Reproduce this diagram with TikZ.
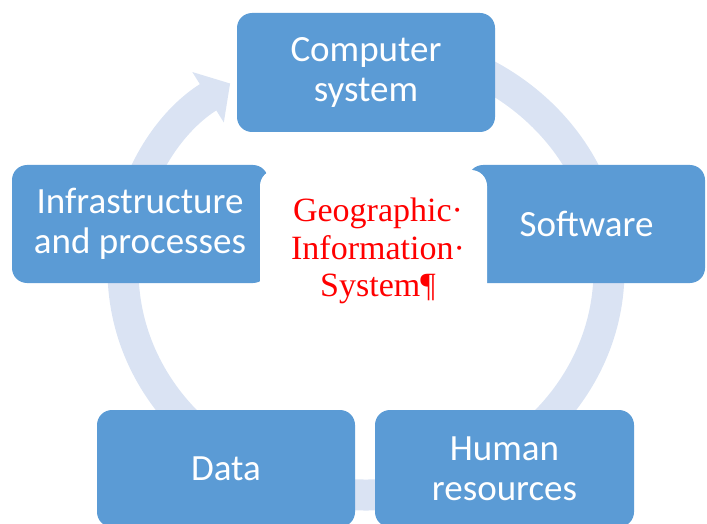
\documentclass[tikz,border=0pt]{standalone}
\usepackage{fontspec}
\newfontfamily\boxfont{Carlito}
\newfontfamily\gisfont{Liberation Serif}
\usetikzlibrary{arrows.meta}
\definecolor{partblue}{RGB}{91,155,213}
\definecolor{ringblue}{RGB}{218,227,243}
\definecolor{gisred}{RGB}{255,0,0}
\tikzset{
  part/.style={fill=partblue,rounded corners=15pt,inner sep=0pt,text=white,align=center,font=\boxfont\fontsize{37}{40}\selectfont},
  ring/.style={line width=31pt,color=ringblue},
  gis/.style={inner sep=0pt,align=center,text=gisred,font=\gisfont\fontsize{34}{37.5}\selectfont}
}

\begin{document}
\begin{tikzpicture}[x=1pt,y=-1pt]
  \useasboundingbox (0,0) rectangle (707,524);
  \clip (0,0) rectangle (707,524);
  % cycle arrow behind the boxes
  \draw[ring,-{Triangle[width=58pt,length=26pt]}] (366,270) ++(265:243 and 225) arc[start angle=265,end angle=596,x radius=243,y radius=225];

  \node[part,minimum width=258pt,minimum height=119pt] (comp) at (366,72.5) {Computer\\system};
  \node[part,minimum width=256pt,minimum height=118pt] (infra) at (140,224) {Infrastructure\\and processes};
  \node[part,minimum width=237pt,minimum height=118pt] (soft) at (586.5,224) {Software};
  \node[part,minimum width=258pt,minimum height=117pt] (data) at (226,468.5) {Data};
  \node[part,minimum width=259pt,minimum height=117pt] (human) at (504.5,468.5) {Human\\resources};

  % white panel for the title
  \fill[white,rounded corners=16pt] (260,170) rectangle (487,330);
  \node[gis] (title) at (378,251) {Geographic·\\Information·\\System¶};
\end{tikzpicture}
\end{document}
